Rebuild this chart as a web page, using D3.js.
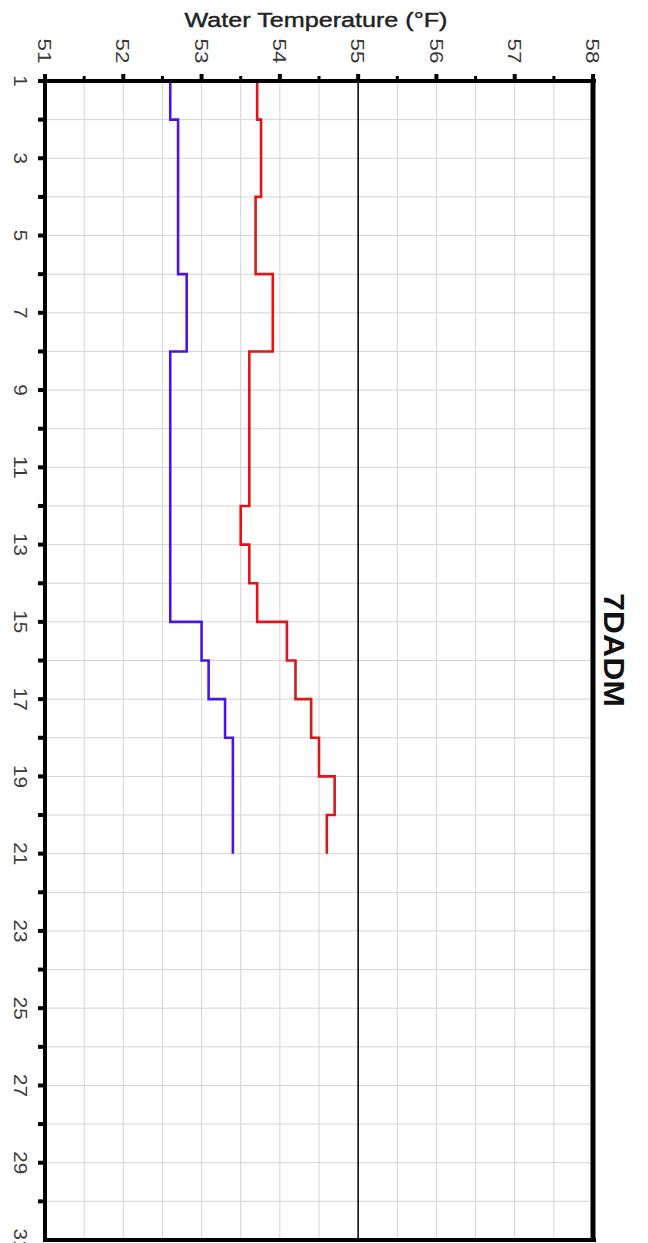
<!DOCTYPE html>
<html><head><meta charset="utf-8">
<script src="https://cdn.jsdelivr.net/npm/d3@7"></script>
<style>body{margin:0;background:#fff}svg{display:block}</style>
</head><body>
<script>
const days = d3.range(1, 22);
const dayTickLabels = [1,3,5,7,9,11,13,15,17,19,21,23,25,27,29,31];
const tempTickLabels = [51,52,53,54,55,56,57,58];
const purpleValues = [52.6,52.7,52.7,52.7,52.7,52.81,52.81,52.6,52.6,52.6,52.6,52.6,52.6,52.6,53.0,53.09,53.3,53.4,53.4,53.4,53.4];
const redValues   = [53.71,53.76,53.76,53.69,53.69,53.91,53.91,53.61,53.61,53.61,53.61,53.5,53.61,53.71,54.09,54.2,54.4,54.5,54.7,54.6,54.6];
const thresholdValue = 55;
const seriesLabel = "7DADM";
const axisTitle = "Water Temperature (°F)";

const W = 648, H = 1243;
const L = 45, R = 593, T = 81, B = 1240;
const FONT = "Liberation Sans, Arial, sans-serif";
const svg = d3.select("body").append("svg").attr("width", W).attr("height", H);
const x = d3.scaleLinear().domain([51, 58]).range([L, R]);
const y = d3.scaleLinear().domain([1, 31]).range([T, B]);

// grid
const g = svg.append("g");
g.selectAll(".vg").data(d3.range(51.5, 58, 0.5)).join("line")
  .attr("x1", d => x(d)).attr("x2", d => x(d)).attr("y1", T).attr("y2", B)
  .attr("stroke", "#d4d4d4").attr("stroke-width", 1);
g.selectAll(".hg").data(d3.range(2, 31)).join("line")
  .attr("x1", L).attr("x2", R).attr("y1", d => y(d)).attr("y2", d => y(d))
  .attr("stroke", "#d4d4d4").attr("stroke-width", 1);

// threshold
svg.append("line").attr("x1", x(thresholdValue)).attr("x2", x(thresholdValue))
  .attr("y1", T).attr("y2", B).attr("stroke", "#000").attr("stroke-width", 1.5);

// lines
const line = (vals) => d3.line().x((d, i) => x(vals[i])).y(d => y(d)).curve(d3.curveStepBefore)(days);
svg.append("path").attr("d", line(purpleValues)).attr("fill", "none").attr("stroke", "#4a17e0").attr("stroke-width", 2.6);
svg.append("path").attr("d", line(redValues)).attr("fill", "none").attr("stroke", "#e0141a").attr("stroke-width", 2.6);

// frame
svg.append("line").attr("x1", L).attr("x2", L).attr("y1", T - 2).attr("y2", B + 2).attr("stroke", "#000").attr("stroke-width", 4);
svg.append("line").attr("x1", L - 2).attr("x2", R + 3).attr("y1", T).attr("y2", T).attr("stroke", "#000").attr("stroke-width", 4);
svg.append("line").attr("x1", R).attr("x2", R).attr("y1", T - 2).attr("y2", B + 2).attr("stroke", "#000").attr("stroke-width", 5);
svg.append("line").attr("x1", L - 2).attr("x2", R + 3).attr("y1", B).attr("y2", B).attr("stroke", "#000").attr("stroke-width", 4);

// top ticks
svg.selectAll(".tt").data(d3.range(51, 58.01, 0.5)).join("rect")
  .attr("x", d => x(d) - (Number.isInteger(d) ? 2 : 1.5))
  .attr("y", d => T - (Number.isInteger(d) ? 7 : 5))
  .attr("width", d => Number.isInteger(d) ? 4 : 3)
  .attr("height", d => Number.isInteger(d) ? 7 : 5).attr("fill", "#000");
// left ticks
svg.selectAll(".lt").data(d3.range(1, 31)).join("rect")
  .attr("x", L - 7).attr("y", d => y(d) - 2).attr("width", 7).attr("height", 4).attr("fill", "#000");

// tick labels
svg.selectAll(".tl").data(tempTickLabels).join("text")
  .attr("transform", d => `translate(${x(d)},51) rotate(90)`)
  .attr("text-anchor", "middle").attr("dy", "0.36em")
  .attr("font-family", FONT).attr("font-size", 19).attr("fill", "#3a3a3a")
  .attr("textLength", 25).attr("lengthAdjust", "spacingAndGlyphs")
  .text(d => d);
svg.selectAll(".dl").data(dayTickLabels).join("text")
  .attr("transform", d => `translate(21,${y(d)}) rotate(90)`)
  .attr("text-anchor", "middle").attr("dy", "0.36em")
  .attr("font-family", FONT).attr("font-size", 19).attr("fill", "#3a3a3a")
  .attr("textLength", d => String(d).length * 11.5).attr("lengthAdjust", "spacingAndGlyphs")
  .text(d => d);

svg.append("text").attr("x", 316).attr("y", 27).attr("text-anchor", "middle")
  .attr("font-family", FONT).attr("font-size", 20).attr("fill", "#222")
  .attr("stroke", "#222").attr("stroke-width", 0.4)
  .attr("textLength", 263).attr("lengthAdjust", "spacingAndGlyphs")
  .text(axisTitle);
svg.append("text").attr("transform", `translate(615,650) rotate(90)`)
  .attr("text-anchor", "middle").attr("dy", "0.36em")
  .attr("font-family", FONT).attr("font-size", 30).attr("font-weight", "bold").attr("fill", "#111")
  .attr("textLength", 114).attr("lengthAdjust", "spacingAndGlyphs")
  .text(seriesLabel);
</script>
</body></html>
